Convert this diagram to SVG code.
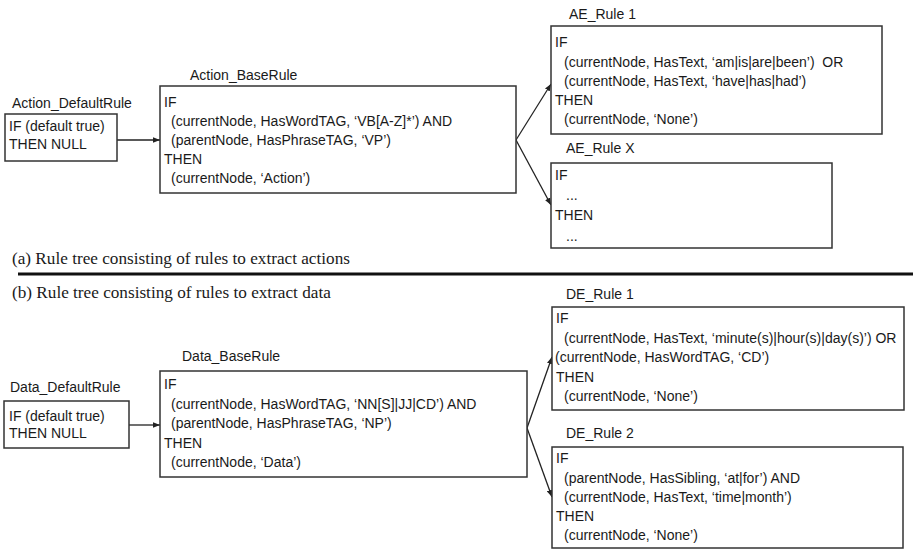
<svg xmlns="http://www.w3.org/2000/svg" width="913" height="552" viewBox="0 0 913 552">
<style>
text{font-family:"Liberation Sans",Arial,sans-serif;font-size:14px;fill:#1a1a1a;white-space:pre}
.cap{font-family:"Liberation Serif","Times New Roman",serif;font-size:17.2px}
.box{fill:#fff;stroke:#333;stroke-width:1.5}
.edge{stroke:#222;stroke-width:1.3;fill:none;marker-end:url(#ah)}
</style>
<defs>
<marker id="ah" viewBox="0 0 10 10" refX="10" refY="5" markerWidth="7" markerHeight="7" markerUnits="userSpaceOnUse" orient="auto">
<path d="M0,1 L10,5 L0,9 z" fill="#222"/>
</marker>
</defs>
<rect width="913" height="552" fill="#fff"/>

<g id="connectors">
<line class="edge" x1="117" y1="140" x2="160" y2="140"/>
<line class="edge" x1="516" y1="140" x2="551" y2="84"/>
<line class="edge" x1="516" y1="140" x2="551" y2="205"/>
<line class="edge" x1="129" y1="425" x2="160" y2="425"/>
<line class="edge" x1="527" y1="428" x2="552" y2="357"/>
<line class="edge" x1="527" y1="428" x2="552" y2="497"/>
</g>

<g id="action_default">
<text x="12" y="108">Action_DefaultRule</text>
<rect class="box" x="5" y="114" width="112" height="47"/>
<text x="9" y="131">IF (default true)</text>
<text x="9" y="149">THEN NULL</text>
</g>

<g id="action_base">
<text x="190" y="80">Action_BaseRule</text>
<rect class="box" x="160" y="86" width="356" height="107"/>
<text x="164" y="107">IF</text>
<text x="171" y="126">(currentNode, HasWordTAG, ‘VB[A-Z]*’) AND</text>
<text x="171" y="145">(parentNode, HasPhraseTAG, ‘VP’)</text>
<text x="164" y="164">THEN</text>
<text x="171" y="183">(currentNode, ‘Action’)</text>
</g>

<g id="ae_rule1">
<text x="569" y="19">AE_Rule 1</text>
<rect class="box" x="551" y="26" width="331" height="108"/>
<text x="555" y="47">IF</text>
<text x="564" y="67">(currentNode, HasText, ‘am|is|are|been’)  OR</text>
<text x="564" y="86">(currentNode, HasText, ‘have|has|had’)</text>
<text x="555" y="105">THEN</text>
<text x="564" y="124">(currentNode, ‘None’)</text>
</g>

<g id="ae_rulex">
<text x="566" y="153">AE_Rule X</text>
<rect class="box" x="551" y="163" width="281" height="85"/>
<text x="555" y="180">IF</text>
<text x="566" y="200">...</text>
<text x="555" y="220">THEN</text>
<text x="566" y="241">...</text>
</g>

<g id="captions">
<text class="cap" x="12" y="264">(a) Rule tree consisting of rules to extract actions</text>
<line x1="18" y1="274" x2="913" y2="274" stroke="#111" stroke-width="3"/>
<text class="cap" x="12" y="298">(b) Rule tree consisting of rules to extract data</text>
</g>

<g id="data_default">
<text x="10" y="392">Data_DefaultRule</text>
<rect class="box" x="4" y="401" width="125" height="47"/>
<text x="9" y="421">IF (default true)</text>
<text x="9" y="438">THEN NULL</text>
</g>

<g id="data_base">
<text x="182" y="361">Data_BaseRule</text>
<rect class="box" x="160" y="371" width="367" height="106"/>
<text x="164" y="389">IF</text>
<text x="171" y="409">(currentNode, HasWordTAG, ‘NN[S]|JJ|CD’) AND</text>
<text x="171" y="428">(parentNode, HasPhraseTAG, ‘NP’)</text>
<text x="164" y="448">THEN</text>
<text x="171" y="467">(currentNode, ‘Data’)</text>
</g>

<g id="de_rule1">
<text x="566" y="299">DE_Rule 1</text>
<rect class="box" x="552" y="307" width="352" height="103"/>
<text x="556" y="323">IF</text>
<text x="564" y="343">(currentNode, HasText, ‘minute(s)|hour(s)|day(s)’) OR</text>
<text x="555" y="362">(currentNode, HasWordTAG, ‘CD’)</text>
<text x="556" y="382">THEN</text>
<text x="564" y="401">(currentNode, ‘None’)</text>
</g>

<g id="de_rule2">
<text x="566" y="438">DE_Rule 2</text>
<rect class="box" x="552" y="447" width="351" height="101"/>
<text x="556" y="463">IF</text>
<text x="564" y="483">(parentNode, HasSibling, ‘at|for’) AND</text>
<text x="564" y="502">(currentNode, HasText, ‘time|month’)</text>
<text x="556" y="521">THEN</text>
<text x="564" y="540">(currentNode, ‘None’)</text>
</g>
</svg>
